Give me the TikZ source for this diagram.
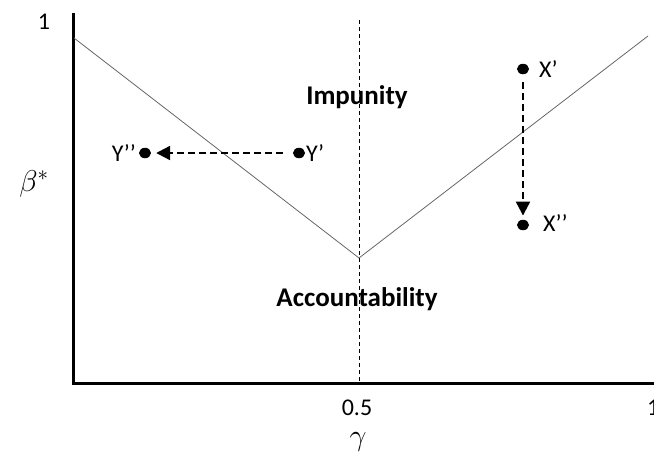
\documentclass[tikz,border=0pt]{standalone}
\usepackage{fontspec}
\setmainfont{Carlito}
\usetikzlibrary{arrows.meta,shapes.geometric}
\begin{document}
\begin{tikzpicture}[x=1pt,y=-1pt,
  dot/.style={ellipse,fill=black,inner sep=0pt,minimum width=12pt,minimum height=10.5pt},
  lbl/.style={font=\fontsize{24}{26}\selectfont,inner sep=0pt},
  region/.style={font=\fontsize{27}{29}\selectfont\bfseries,inner sep=0pt},
  mathlbl/.style={font=\fontsize{20}{22}\selectfont,inner sep=0pt,scale=1.45},
  move/.style={line width=2.2pt,dash pattern=on 7pt off 4pt,-{Triangle[width=14pt,length=14pt]}},
  axis/.style={line width=3pt},
  vline/.style={gray!80!black,line width=0.8pt}]
\useasboundingbox (0,0) rectangle (654,464);
% axes
\coordinate (O) at (73,383);
\coordinate (Ytop) at (73,13);
\coordinate (Xend) at (654,383);
\draw[axis] (Ytop) -- (O) -- (Xend);
% V lines
\coordinate (L) at (74,38);
\coordinate (M) at (359,258);
\coordinate (R) at (648,36);
\draw[vline] (L) -- (M) -- (R);
% dashed vertical
\coordinate (Dt) at (359,20);
\coordinate (Db) at (359,381);
\draw[line width=0.8pt,dash pattern=on 4pt off 3pt] (Dt) -- (Db);
% tick labels
\node[lbl] (one) at (44,22) {1};
\node[lbl] (half) at (357,408) {0.5};
\node[lbl,anchor=west] (oneb) at (647,408) {1};
\node[mathlbl] (gam) at (358,442) {$\gamma$};
\node[mathlbl] (bet) at (34,184) {$\beta^{*}$};
% regions
\node[region] (imp) at (357,97) {Impunity};
\node[region] (acc) at (357,299) {Accountability};
% points
\node[dot] (Xp) at (523,69) {};
\node[dot] (Xpp) at (523,225) {};
\node[dot] (Yp) at (299,153) {};
\node[dot] (Ypp) at (145,153) {};
\node[lbl,anchor=west] (Xpl) at (539,69) {X’};
\node[lbl,anchor=west] (Xppl) at (543,223) {X’’};
\node[lbl,anchor=west] (Ypl) at (306,153) {Y’};
\node[lbl,anchor=east] (Yppl) at (136,153) {Y’’};
\draw[move,shorten <=8pt,shorten >=4pt] (Xp) -- (Xpp);
\draw[move,shorten <=10pt,shorten >=5pt] (Yp) -- (Ypp);
\end{tikzpicture}
\end{document}
